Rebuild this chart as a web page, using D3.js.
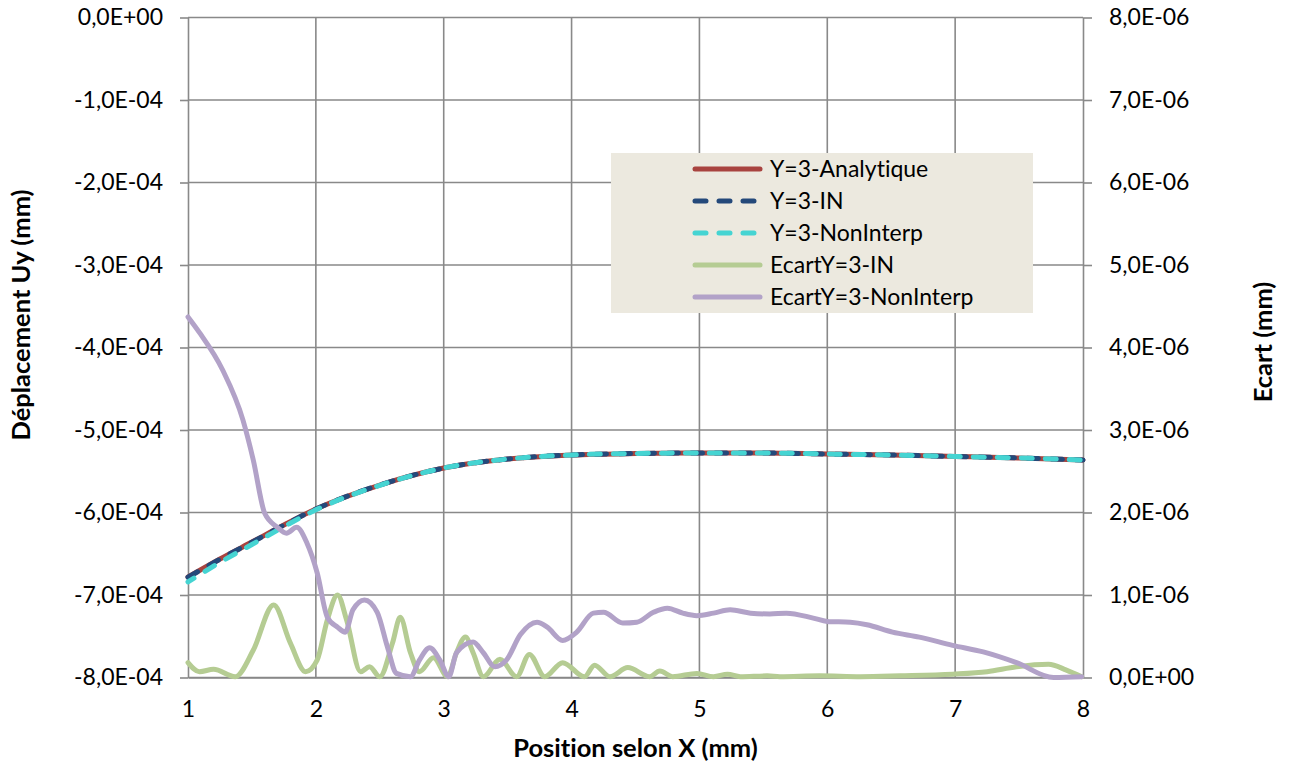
<!DOCTYPE html>
<html><head><meta charset="utf-8">
<script src="https://cdn.jsdelivr.net/npm/d3@7"></script>
<style>
html,body{margin:0;padding:0;background:#fff;}
svg{display:block;font-family:Lato,"Open Sans",sans-serif;font-variant-ligatures:none;font-feature-settings:"liga" 0;}
</style></head>
<body>
<svg id="chart" width="1290" height="767"></svg>
<script>
// ---------- DATA ----------
const xTicks = [1,2,3,4,5,6,7,8];
const leftTicks = [0,-1e-4,-2e-4,-3e-4,-4e-4,-5e-4,-6e-4,-7e-4,-8e-4];
const rightTicks = [0,1e-6,2e-6,3e-6,4e-6,5e-6,6e-6,7e-6,8e-6];

const xMain = [1,1.25,1.5,1.75,2,2.5,3,3.5,4,4.5,5,5.5,6,6.5,7,7.5,8];
const yAnalytique = [-6.782e-4,-6.564e-4,-6.358e-4,-6.152e-4,-5.958e-4,-5.667e-4,-5.461e-4,-5.352e-4,-5.303e-4,-5.285e-4,-5.279e-4,-5.279e-4,-5.291e-4,-5.303e-4,-5.321e-4,-5.339e-4,-5.364e-4];
const yIN = [-6.785e-4,-6.566e-4,-6.360e-4,-6.153e-4,-5.959e-4,-5.667e-4,-5.461e-4,-5.352e-4,-5.303e-4,-5.285e-4,-5.279e-4,-5.279e-4,-5.291e-4,-5.303e-4,-5.321e-4,-5.339e-4,-5.364e-4];
const yNonInterp = [-6.842e-4,-6.604e-4,-6.388e-4,-6.172e-4,-5.968e-4,-5.670e-4,-5.461e-4,-5.352e-4,-5.303e-4,-5.285e-4,-5.279e-4,-5.279e-4,-5.291e-4,-5.303e-4,-5.321e-4,-5.339e-4,-5.364e-4];

const xEcartIN = [1.00,1.09,1.20,1.37,1.51,1.67,1.80,1.92,2.01,2.09,2.17,2.24,2.35,2.42,2.50,2.60,2.66,2.74,2.81,2.92,3.03,3.10,3.17,3.23,3.31,3.44,3.57,3.67,3.79,3.93,4.10,4.18,4.30,4.44,4.61,4.69,4.79,4.98,5.11,5.22,5.32,5.53,5.63,5.94,6.26,6.57,6.98,7.25,7.48,7.73,7.87,7.99];
const ecartIN = [0.18,0.07,0.10,0.01,0.33,0.88,0.42,0.07,0.21,0.70,1.00,0.70,0.07,0.13,0.01,0.42,0.73,0.30,0.07,0.24,0.01,0.30,0.49,0.30,0.01,0.22,0.01,0.28,0.01,0.18,0.01,0.15,0.01,0.12,0.01,0.08,0.01,0.05,0.01,0.04,0.01,0.02,0.01,0.02,0.01,0.02,0.04,0.07,0.13,0.16,0.09,0.01].map(v=>v*1e-6);

const xEcartNI = [1.00,1.09,1.27,1.43,1.51,1.60,1.70,1.77,1.85,1.93,2.01,2.09,2.17,2.23,2.29,2.38,2.48,2.56,2.63,2.74,2.81,2.89,2.97,3.04,3.10,3.23,3.31,3.40,3.49,3.60,3.73,3.81,3.93,4.04,4.17,4.25,4.40,4.51,4.64,4.75,4.87,4.98,5.11,5.24,5.40,5.55,5.68,5.89,6.00,6.18,6.31,6.51,6.72,6.98,7.22,7.48,7.77,7.99];
const ecartNI = [4.37,4.18,3.73,3.12,2.64,1.99,1.82,1.75,1.82,1.63,1.27,0.73,0.61,0.55,0.82,0.94,0.79,0.37,0.05,0.01,0.21,0.36,0.21,0.01,0.30,0.43,0.30,0.13,0.21,0.52,0.67,0.61,0.45,0.55,0.78,0.79,0.66,0.67,0.79,0.84,0.78,0.75,0.78,0.82,0.78,0.77,0.78,0.72,0.68,0.67,0.64,0.55,0.49,0.39,0.31,0.18,0.00,0.01].map(v=>v*1e-6);

const seriesNames = ["Y=3-Analytique","Y=3-IN","Y=3-NonInterp","EcartY=3-IN","EcartY=3-NonInterp"];
const seriesColors = ["#A8433F","#24497A","#45D4D2","#B5CC93","#B2A2C8"];
const xTitle = "Position selon X (mm)";
const yTitle = "Déplacement Uy (mm)";
const y2Title = "Ecart (mm)";

// ---------- CHART ----------
const svg = d3.select("#chart");
const L=188, R=1083, T=17.5, B=677.5;
const x = d3.scaleLinear().domain([1,8]).range([L,R]);
const yL = d3.scaleLinear().domain([-8e-4,0]).range([B,T]);
const yR = d3.scaleLinear().domain([0,8e-6]).range([B,T]);
const gridColor = "#898989";
const fontSize = 23;
const titleSize = 25.5;

function fmtE(v){
  if (Math.abs(v) < 1e-15) return "0,0E+00";
  let s = v.toExponential(1);
  let [m,e] = s.split("e");
  let sign = e[0]==="-" ? "-" : "+";
  let num = e.replace(/^[+-]/,"");
  if (num.length<2) num = "0"+num;
  return m.replace(".",",")+"E"+sign+num;
}

// gridlines
svg.append("g").selectAll("line").data(leftTicks).join("line")
  .attr("x1",L).attr("x2",R).attr("y1",d=>yL(d)).attr("y2",d=>yL(d))
  .attr("stroke",gridColor).attr("stroke-width",1.6);
svg.append("g").selectAll("line").data(xTicks.slice(1,-1)).join("line")
  .attr("x1",d=>x(d)).attr("x2",d=>x(d)).attr("y1",T).attr("y2",B)
  .attr("stroke",gridColor).attr("stroke-width",1.6);

// axes
const axL = svg.append("g").attr("transform",`translate(${L},0)`)
  .call(d3.axisLeft(yL).tickValues(leftTicks).tickSize(8).tickSizeOuter(0).tickPadding(17).tickFormat(fmtE));
const axR = svg.append("g").attr("transform",`translate(${R},0)`)
  .call(d3.axisRight(yR).tickValues(rightTicks).tickSize(9).tickSizeOuter(0).tickPadding(17).tickFormat(fmtE));
const axB = svg.append("g").attr("transform",`translate(0,${B})`)
  .call(d3.axisBottom(x).tickValues(xTicks).tickSize(0).tickSizeOuter(0).tickPadding(23).tickFormat(d3.format("d")));
[axL,axR,axB].forEach(a=>{
  a.selectAll("path.domain").attr("stroke",gridColor).attr("stroke-width",1.6);
  a.selectAll(".tick line").attr("stroke",gridColor).attr("stroke-width",1.6);
  a.selectAll("text").attr("font-size",fontSize).attr("fill","#000").attr("font-family","Lato");
});

// lines
const lineL = d3.line().x(d=>x(d[0])).y(d=>yL(d[1])).curve(d3.curveMonotoneX);
const lineR = d3.line().x(d=>x(d[0])).y(d=>yR(d[1])).curve(d3.curveMonotoneX);
const zipper = (xs,ys)=>xs.map((v,i)=>[v,ys[i]]);

svg.append("path").attr("d",lineL(zipper(xMain,yAnalytique)))
  .attr("fill","none").attr("stroke",seriesColors[0]).attr("stroke-width",5).attr("stroke-linecap","round");
svg.append("path").attr("d",lineL(zipper(xMain,yIN)))
  .attr("fill","none").attr("stroke",seriesColors[1]).attr("stroke-width",5)
  .attr("stroke-dasharray","11,13").attr("stroke-linecap","round");
svg.append("path").attr("d",lineL(zipper(xMain,yNonInterp)))
  .attr("fill","none").attr("stroke",seriesColors[2]).attr("stroke-width",5)
  .attr("stroke-dasharray","11,13").attr("stroke-dashoffset",4).attr("stroke-linecap","round");
svg.append("path").attr("d",lineR(zipper(xEcartIN,ecartIN)))
  .attr("fill","none").attr("stroke",seriesColors[3]).attr("stroke-width",5).attr("stroke-linejoin","round").attr("stroke-linecap","round");
svg.append("path").attr("d",lineR(zipper(xEcartNI,ecartNI)))
  .attr("fill","none").attr("stroke",seriesColors[4]).attr("stroke-width",5).attr("stroke-linejoin","round").attr("stroke-linecap","round");

// legend
const lg = svg.append("g");
lg.append("rect").attr("x",611).attr("y",153).attr("width",422).attr("height",160).attr("fill","#ECE9DF");
const rowY = i=>169 + i*32;
const dashed = [false,true,true,false,false];
seriesNames.forEach((n,i)=>{
  lg.append("line").attr("x1",695).attr("x2",760).attr("y1",rowY(i)).attr("y2",rowY(i))
    .attr("stroke",seriesColors[i]).attr("stroke-width",5).attr("stroke-linecap","round")
    .attr("stroke-dasharray",dashed[i]?"11,13":null);
  lg.append("text").attr("x",770).attr("y",rowY(i)).attr("dy","0.35em")
    .attr("font-size",fontSize).attr("fill","#000").text(n);
});

// titles
svg.append("text").attr("x",(L+R)/2).attr("y",748).attr("dy","0.35em").attr("text-anchor","middle")
  .attr("font-size",titleSize).attr("font-weight","bold").text(xTitle);
svg.append("text").attr("transform","translate(21,315) rotate(-90)").attr("dy","0.35em").attr("text-anchor","middle")
  .attr("font-size",titleSize).attr("font-weight","bold").text(yTitle);
svg.append("text").attr("transform","translate(1263,342) rotate(-90)").attr("dy","0.35em").attr("text-anchor","middle")
  .attr("font-size",titleSize).attr("font-weight","bold").text(y2Title);
</script>
</body></html>
